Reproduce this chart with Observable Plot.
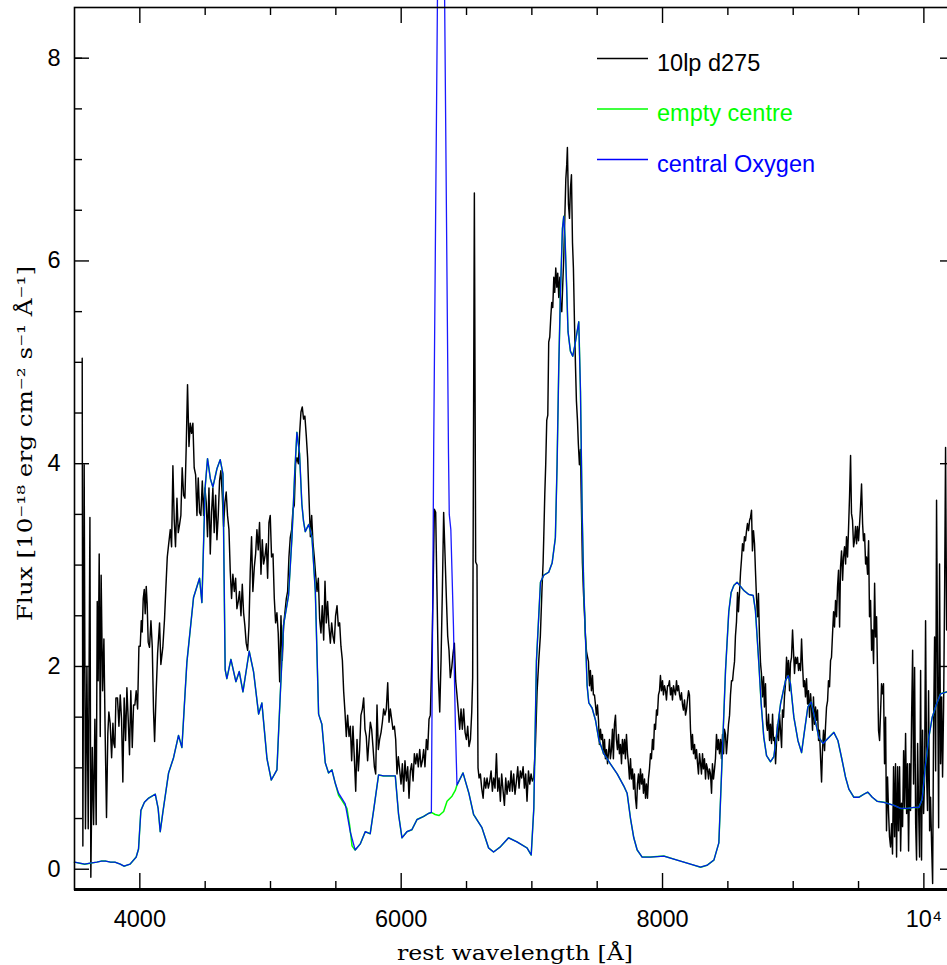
<!DOCTYPE html>
<html>
<head>
<meta charset="utf-8">
<script src="https://cdn.jsdelivr.net/npm/d3@7"></script>
<script src="https://cdn.jsdelivr.net/npm/@observablehq/plot@0.6"></script>
<style>
  html, body { margin: 0; padding: 0; background: #fff; overflow: hidden; }
  #chart svg { display: block; }
</style>
</head>
<body>
<div id="chart"></div>
<script>
// ---------- data (wavelength in Å, flux in 1e-18 erg/cm2/s/Å) ----------
const seriesNames = ["10lp d275", "empty centre", "central Oxygen"];
const seriesColors = ["#000000", "#00ff00", "#0000ff"];

const xMajorTicks = [4000, 6000, 8000, 10000];
const xTickLabels = ["4000", "6000", "8000", "10\u2074"];
const xMinorTicks = [4500, 5000, 5500, 6500, 7000, 7500, 8500, 9000, 9500];
const yMajorTicks = [0, 2, 4, 6, 8];
const yMinorTicks = [0.5, 1, 1.5, 2.5, 3, 3.5, 4.5, 5, 5.5, 6.5, 7, 7.5, 8];
const xDomain = [3500, 10242];
const yDomain = [-0.2, 8.5];
const xTitle = "rest wavelength [Å]";
const yTitle = "Flux [10\u207b\u00b9\u2078 erg cm\u207b\u00b2 s\u207b\u00b9 Å\u207b\u00b9]";

// observed spectrum "10lp d275"
const observed = [
[3559,5.04],[3564,0.23],[3574,3.99],[3584,0.40],[3595,2.0],[3605,0.40],[3618,3.47],[3625,-0.08],[3636,1.20],[3646,0.44],
[3656,1.48],[3666,0.44],[3674,2.64],[3681,1.86],[3689,3.11],[3697,1.31],[3704,2.90],[3715,1.76],[3725,2.27],[3735,1.31],
[3745,0.51],[3755,1.34],[3763,1.55],[3773,1.44],[3784,1.10],[3794,1.44],[3801,1.24],[3809,1.20],[3817,1.69],[3829,1.69],
[3840,1.41],[3850,1.72],[3860,1.48],[3870,0.86],[3880,1.69],[3891,1.27],[3901,1.79],[3911,1.48],[3921,1.13],[3931,1.76],
[3942,1.20],[3952,1.62],[3962,1.62],[3972,1.76],[3983,1.58],[3993,2.20],[4003,2.20],[4011,2.45],[4018,2.34],[4026,2.67],
[4034,2.76],[4041,2.52],[4049,2.79],[4056,2.62],[4064,2.24],[4074,2.19],[4085,2.45],[4095,2.20],[4105,1.55],[4113,1.26],
[4125,1.75],[4136,2.13],[4151,2.43],[4161,2.02],[4176,2.19],[4189,2.47],[4199,2.77],[4210,3.08],[4220,3.20],[4233,3.35],
[4243,3.18],[4253,3.98],[4263,3.45],[4273,3.18],[4284,3.66],[4294,3.32],[4304,3.40],[4314,3.49],[4324,3.96],[4335,3.69],
[4345,3.66],[4355,4.17],[4365,4.78],[4376,4.17],[4386,4.40],[4396,4.30],[4406,4.40],[4416,3.96],[4427,3.89],[4437,3.49],
[4447,3.86],[4457,3.52],[4467,3.49],[4478,3.83],[4488,3.49],[4498,3.76],[4508,3.62],[4518,3.28],[4529,3.76],[4539,3.11],
[4549,3.52],[4559,3.76],[4569,3.32],[4580,3.69],[4590,3.25],[4600,3.49],[4610,3.83],[4620,3.93],[4631,3.69],[4641,3.38],
[4651,3.62],[4661,3.72],[4671,3.49],[4682,3.35],[4692,2.94],[4702,2.67],[4712,2.91],[4723,2.74],[4733,2.87],[4743,2.57],
[4753,2.64],[4763,2.74],[4774,2.50],[4784,2.81],[4794,2.53],[4804,2.40],[4814,2.23],[4825,2.16],[4835,2.40],[4845,2.94],
[4855,3.28],[4865,2.74],[4876,2.98],[4886,3.11],[4896,3.35],[4906,3.15],[4916,3.42],[4927,2.91],[4937,3.25],[4947,3.01],
[4957,3.08],[4968,3.21],[4978,2.87],[4988,3.42],[4998,3.49],[5008,3.08],[5019,3.11],[5029,2.67],[5039,2.43],[5049,2.53],
[5059,2.33],[5070,1.85],[5080,2.50],[5090,2.06],[5100,2.40],[5110,2.53],[5121,2.67],[5131,2.74],[5141,3.08],[5151,3.27],
[5162,3.35],[5172,3.55],[5182,3.59],[5192,4.00],[5202,4.06],[5213,4.00],[5223,4.30],[5233,4.51],[5243,4.56],[5253,4.44],
[5263,4.47],[5274,4.27],[5284,4.06],[5294,3.69],[5305,3.28],[5315,3.49],[5325,3.22],[5335,3.08],[5345,2.91],[5356,2.74],
[5366,2.87],[5376,2.47],[5386,2.33],[5396,2.60],[5407,2.26],[5417,2.84],[5427,2.43],[5437,2.64],[5447,2.40],[5458,2.23],
[5468,2.43],[5478,2.30],[5488,2.23],[5498,2.50],[5509,2.60],[5519,2.40],[5529,2.43],[5539,2.20],[5550,2.06],[5560,1.75],
[5570,1.55],[5580,1.31],[5590,1.52],[5601,1.31],[5611,1.41],[5621,1.07],[5631,1.41],[5641,1.11],[5652,0.77],[5662,1.28],
[5672,0.97],[5682,1.18],[5692,1.52],[5703,1.58],[5713,1.69],[5723,1.38],[5733,1.31],[5743,1.07],[5754,1.28],[5764,1.45],
[5774,1.38],[5784,1.21],[5795,1.01],[5805,0.94],[5815,1.62],[5825,1.18],[5835,1.28],[5846,1.35],[5856,1.45],[5866,1.58],
[5876,1.52],[5886,1.58],[5897,1.84],[5907,1.45],[5917,1.58],[5927,1.48],[5937,1.38],[5948,1.41],[5958,1.28],[5968,0.94],
[5978,1.11],[5989,0.97],[5999,0.84],[6009,1.04],[6019,0.77],[6029,1.07],[6040,0.87],[6050,1.01],[6060,0.70],[6070,0.97],
[6080,1.04],[6091,0.87],[6101,1.14],[6111,1.04],[6121,1.14],[6131,1.01],[6142,1.18],[6152,1.01],[6162,1.07],[6172,1.18],
[6182,1.01],[6193,1.28],[6203,1.18],[6213,1.48],[6223,1.52],[6234,2.06],[6244,2.74],[6254,3.55],[6264,3.52],[6274,2.74],
[6285,1.89],[6295,1.55],[6305,2.06],[6315,2.74],[6325,3.52],[6336,3.08],[6346,2.67],[6356,2.30],[6366,2.16],[6376,1.89],
[6387,1.99],[6397,2.13],[6407,2.23],[6417,1.86],[6427,1.72],[6438,1.55],[6448,1.38],[6458,1.58],[6468,1.38],[6478,1.58],
[6489,1.35],[6499,1.28],[6509,1.41],[6519,1.21],[6530,1.28],[6540,1.55],[6547,1.89],[6560,6.67],[6570,3.03],[6580,3.0],
[6588,1.0],[6596,0.90],[6606,0.94],[6616,0.80],[6627,0.70],[6637,0.90],[6647,0.80],[6657,0.90],[6667,0.80],[6678,0.87],
[6688,0.97],[6698,0.77],[6708,0.90],[6718,0.80],[6729,1.14],[6739,0.77],[6749,0.90],[6759,0.67],[6769,0.94],[6780,0.77],
[6790,0.63],[6800,0.90],[6810,0.74],[6820,0.87],[6831,0.77],[6841,0.97],[6851,0.77],[6861,0.94],[6871,0.74],[6882,0.87],
[6892,1.01],[6902,0.80],[6912,0.97],[6922,0.90],[6933,1.01],[6943,0.80],[6953,0.94],[6963,0.67],[6974,0.97],[6984,0.84],
[6994,0.94],[7004,0.87],[7014,0.90],[7027,1.21],[7040,1.75],[7053,2.06],[7065,2.30],[7078,2.78],[7086,3.02],[7091,3.27],
[7099,3.70],[7106,3.99],[7114,4.43],[7122,4.48],[7129,5.20],[7137,5.25],[7145,5.45],[7152,5.59],[7160,5.54],[7168,5.84],
[7175,5.69],[7183,5.93],[7191,5.74],[7198,5.88],[7206,5.64],[7214,5.84],[7221,5.54],[7229,5.50],[7237,5.79],[7244,6.03],
[7252,6.42],[7260,6.81],[7267,6.95],[7272,7.12],[7280,6.56],[7288,6.42],[7295,6.71],[7303,6.85],[7311,6.18],[7318,5.93],
[7326,5.40],[7334,4.96],[7341,4.62],[7349,4.43],[7356,4.19],[7364,3.99],[7372,4.14],[7379,3.61],[7387,3.02],[7395,2.73],
[7402,2.54],[7410,2.30],[7418,2.15],[7425,2.10],[7433,2.05],[7441,1.81],[7448,1.96],[7456,1.76],[7464,1.91],[7471,1.72],
[7479,1.72],[7487,1.62],[7494,1.52],[7502,1.62],[7510,1.47],[7517,1.23],[7525,1.38],[7533,1.28],[7540,1.33],[7548,1.14],
[7556,1.28],[7563,1.09],[7571,1.18],[7579,1.04],[7586,1.14],[7594,1.28],[7601,1.09],[7609,1.18],[7617,1.38],[7624,1.09],
[7632,1.43],[7640,1.52],[7647,1.28],[7655,1.18],[7663,1.33],[7670,1.14],[7678,1.23],[7686,1.04],[7693,1.28],[7701,1.14],
[7709,1.28],[7716,1.09],[7724,1.33],[7732,1.14],[7739,1.04],[7747,0.89],[7755,1.09],[7762,0.89],[7770,0.99],[7778,0.79],
[7785,0.94],[7793,0.70],[7801,0.60],[7808,0.84],[7816,0.94],[7824,0.79],[7831,0.99],[7839,0.84],[7847,0.94],[7854,0.75],
[7862,0.89],[7870,0.70],[7877,0.84],[7885,0.70],[7892,0.89],[7900,0.99],[7908,1.14],[7915,1.09],[7923,1.28],[7931,1.18],
[7938,1.43],[7946,1.38],[7954,1.57],[7961,1.52],[7969,1.72],[7977,1.76],[7984,1.91],[7992,1.76],[8000,1.86],[8007,1.72],
[8015,1.81],[8023,1.76],[8030,1.67],[8038,1.81],[8046,1.81],[8053,1.86],[8061,1.72],[8069,1.79],[8076,1.67],[8084,1.81],
[8091,1.76],[8099,1.72],[8107,1.86],[8114,1.76],[8122,1.81],[8130,1.72],[8137,1.67],[8145,1.74],[8153,1.62],[8160,1.57],
[8168,1.67],[8176,1.52],[8183,1.57],[8191,1.67],[8199,1.76],[8206,1.72],[8214,1.38],[8222,1.18],[8229,1.33],[8237,1.14],
[8245,1.23],[8252,1.09],[8260,1.18],[8268,1.04],[8275,0.94],[8283,1.14],[8291,1.04],[8298,0.94],[8306,1.14],[8313,0.99],
[8321,1.09],[8329,0.89],[8336,1.04],[8344,0.99],[8352,0.89],[8359,0.99],[8367,0.94],[8375,0.75],[8382,1.04],[8390,0.89],
[8398,0.99],[8405,1.09],[8413,1.33],[8421,1.18],[8428,1.28],[8436,1.14],[8444,1.28],[8451,1.09],[8459,1.33],[8467,1.14],
[8474,1.38],[8482,1.33],[8489,1.14],[8497,1.28],[8505,1.43],[8513,1.52],[8520,1.72],[8528,1.86],[8536,1.86],[8543,1.96],
[8551,2.05],[8558,2.30],[8566,2.44],[8574,2.73],[8581,2.54],[8589,2.73],[8597,2.93],[8604,3.05],[8612,3.21],[8620,3.14],
[8627,3.28],[8635,3.24],[8643,3.34],[8650,3.41],[8658,3.34],[8666,3.44],[8673,3.47],[8681,3.54],[8688,3.14],[8696,3.34],
[8704,3.21],[8711,2.95],[8719,2.68],[8727,2.49],[8734,2.72],[8742,2.29],[8750,2.03],[8757,1.93],[8765,1.70],[8773,1.90],
[8780,1.60],[8788,1.83],[8796,1.43],[8803,1.37],[8811,1.53],[8819,1.27],[8826,1.43],[8834,1.24],[8842,1.53],[8849,1.27],
[8857,1.30],[8865,1.04],[8872,1.24],[8880,1.43],[8888,1.27],[8895,1.53],[8903,1.37],[8911,1.20],[8918,1.57],[8926,1.50],
[8933,1.70],[8941,1.83],[8949,2.09],[8956,1.90],[8964,2.06],[8972,1.76],[8979,2.03],[8987,2.09],[8995,2.36],[9002,2.16],
[9010,1.93],[9018,2.09],[9025,2.03],[9033,2.09],[9041,1.96],[9048,2.03],[9056,1.96],[9064,2.27],[9071,2.03],[9079,1.80],
[9087,1.86],[9094,1.70],[9102,1.88],[9110,1.63],[9117,1.76],[9125,1.50],[9133,1.73],[9140,1.60],[9148,1.37],[9155,1.70],
[9163,1.43],[9171,1.60],[9178,1.47],[9186,1.57],[9194,1.27],[9201,1.37],[9209,1.11],[9217,0.86],[9224,1.17],[9232,1.37],
[9240,1.17],[9247,1.40],[9255,1.60],[9263,1.66],[9270,1.86],[9278,1.80],[9286,2.06],[9293,2.09],[9301,2.32],[9309,2.54],
[9316,2.39],[9324,2.65],[9332,2.49],[9339,2.78],[9347,2.95],[9355,2.39],[9362,2.98],[9370,3.14],[9378,2.85],[9385,3.08],
[9393,3.18],[9401,3.01],[9408,3.28],[9416,3.08],[9423,3.34],[9431,3.67],[9439,4.08],[9446,3.51],[9454,3.44],[9462,3.18],
[9469,3.24],[9477,3.38],[9485,3.21],[9492,3.38],[9500,3.24],[9508,3.41],[9515,3.57],[9523,3.80],[9531,3.41],[9538,3.24],
[9546,3.31],[9554,3.01],[9561,3.08],[9569,2.91],[9577,3.24],[9584,2.49],[9592,2.65],[9600,2.16],[9607,2.36],[9615,2.03],
[9623,2.82],[9630,2.29],[9638,2.49],[9646,1.90],[9653,1.37],[9661,1.27],[9668,1.53],[9676,1.83],[9684,1.73],[9691,1.83],
[9699,1.04],[9707,1.50],[9714,0.38],[9722,0.91],[9730,0.55],[9737,0.32],[9745,0.22],[9753,0.45],[9760,0.15],[9768,1.01],
[9776,0.32],[9783,1.04],[9791,0.12],[9799,1.01],[9806,0.38],[9814,1.01],[9822,0.18],[9829,0.65],[9837,0.42],[9845,1.17],
[9852,0.61],[9860,1.34],[9868,0.55],[9875,1.04],[9883,0.18],[9891,1.04],[9898,0.58],[9906,1.50],[9914,2.16],[9921,0.84],
[9929,1.99],[9937,0.45],[9944,0.09],[9952,1.24],[9959,0.65],[9967,0.12],[9975,1.96],[9982,0.09],[9990,1.37],[9998,0.55],
[10005,0.88],[10013,2.45],[10021,0.91],[10028,0.58],[10036,1.76],[10044,0.38],[10051,0.71],[10059,0.25],[10067,-0.14],[10074,1.37],
[10082,2.29],[10090,0.97],[10097,3.64],[10105,2.03],[10113,0.41],[10120,3.01],[10128,1.04],[10136,1.70],[10143,0.91],[10151,1.60],
[10159,2.78],[10166,4.16],[10174,2.36]
];

// model "central Oxygen"
const centralOxygen = [
[3500,0.07],[3540,0.06],[3578,0.05],[3620,0.06],[3671,0.07],[3705,0.08],[3740,0.08],[3775,0.07],[3809,0.07],[3850,0.05],
[3879,0.03],[3925,0.05],[3972,0.12],[3990,0.2],[4008,0.58],[4035,0.66],[4066,0.70],[4118,0.74],[4140,0.6],[4156,0.37],
[4175,0.55],[4220,0.95],[4258,1.10],[4296,1.32],[4322,1.20],[4340,1.6],[4360,2.04],[4411,2.68],[4457,2.87],[4475,2.63],
[4500,3.77],[4518,4.05],[4540,3.85],[4559,3.77],[4590,3.95],[4615,4.04],[4636,3.9],[4653,1.97],[4666,1.88],[4697,2.07],
[4735,1.85],[4761,1.95],[4789,1.75],[4837,2.15],[4870,1.95],[4909,1.53],[4934,1.64],[4973,1.09],[5006,0.88],[5049,0.98],
[5075,1.73],[5100,2.41],[5138,2.70],[5164,3.27],[5185,3.9],[5202,4.31],[5222,4.1],[5240,3.6],[5253,3.43],[5266,3.33],
[5292,3.40],[5317,3.28],[5343,2.74],[5368,1.53],[5393,1.43],[5419,1.05],[5444,0.95],[5470,0.98],[5495,0.85],[5521,0.75],
[5572,0.645],[5610,0.37],[5648,0.19],[5687,0.25],[5725,0.37],[5763,0.35],[5789,0.58],[5827,0.93],[5865,0.92],[5955,0.92],
[5980,0.54],[6006,0.31],[6044,0.37],[6082,0.39],[6121,0.49],[6171,0.52],[6209,0.55],[6231,0.56],[6249,4.2],[6277,8.5],
[6305,12.5],[6333,8.5],[6362,4.1],[6368,3.5],[6380,3.35],[6400,2.4],[6415,1.4],[6427,0.83],[6473,0.95],[6518,0.75],
[6554,0.54],[6618,0.41],[6669,0.21],[6707,0.17],[6758,0.22],[6822,0.31],[6886,0.27],[6963,0.21],[6995,0.14],[7015,0.60],
[7035,2.05],[7066,2.83],[7091,2.90],[7129,2.93],[7155,3.02],[7180,3.27],[7193,3.99],[7206,4.96],[7219,5.69],[7234,6.32],
[7244,6.44],[7254,6.22],[7265,5.79],[7277,5.30],[7295,5.11],[7313,5.06],[7328,5.16],[7346,5.30],[7359,5.40],[7372,4.72],
[7385,3.51],[7397,2.78],[7410,2.30],[7423,1.81],[7436,1.64],[7461,1.59],[7487,1.47],[7512,1.28],[7550,1.14],[7601,1.04],
[7653,0.94],[7704,0.82],[7729,0.75],[7755,0.50],[7780,0.31],[7806,0.19],[7844,0.12],[7908,0.12],[8010,0.13],[8112,0.09],
[8214,0.05],[8291,0.02],[8342,0.04],[8393,0.09],[8431,0.26],[8456,1.09],[8482,1.96],[8507,2.54],[8525,2.73],[8546,2.80],
[8571,2.83],[8597,2.79],[8622,2.75],[8660,2.71],[8694,2.70],[8711,2.55],[8737,2.03],[8755,1.63],[8775,1.30],[8796,1.12],
[8826,1.06],[8852,1.11],[8877,1.37],[8903,1.63],[8941,1.86],[8962,1.91],[8979,1.83],[9005,1.50],[9036,1.27],[9064,1.15],
[9087,1.37],[9112,1.60],[9138,1.65],[9163,1.50],[9196,1.30],[9229,1.24],[9265,1.29],[9311,1.35],[9342,1.27],[9375,1.07],
[9400,0.91],[9426,0.79],[9464,0.71],[9503,0.71],[9541,0.74],[9571,0.76],[9605,0.71],[9643,0.67],[9694,0.66],[9771,0.63],
[9822,0.60],[9873,0.60],[9924,0.61],[9962,0.61],[9987,0.69],[10013,1.04],[10038,1.30],[10064,1.50],[10097,1.63],[10128,1.73],
[10179,1.75]
];

// model "empty centre": where it departs from the central Oxygen model
const emptyCentreNaD = [[5521,0.73],[5547,0.68],[5585,0.60],[5606,0.43],[5624,0.23],[5641,0.20]];
const emptyCentreHalpha = [[6231,0.56],[6260,0.54],[6290,0.53],[6325,0.57],[6351,0.67],[6389,0.72],[6415,0.78],[6427,0.83]];

// ---------- build tables ----------
const row = ([w, f]) => ({w, f});
const obsRows = observed.map(row);
const oxyRows = centralOxygen.map(row);
const diffRanges = [emptyCentreNaD, emptyCentreHalpha].map(s => [s[0][0], s[s.length - 1][0]]);
const emptyRows = centralOxygen
  .filter(([w]) => !diffRanges.some(([a, b]) => w >= a && w <= b))
  .concat(emptyCentreNaD, emptyCentreHalpha)
  .sort((a, b) => a[0] - b[0])
  .map(row);

const W = 947, H = 965;
const mL = 74, mR = -8, mT = 7, mB = 76;
const frameW = W - mL - mR, frameH = H - mT - mB;
const sans = "'Liberation Sans', Arial, Helvetica, sans-serif";
const serif = "'DejaVu Serif', 'Liberation Serif', serif";

const chart = Plot.plot({
  width: W, height: H,
  marginLeft: mL, marginRight: mR, marginTop: mT, marginBottom: mB,
  x: {domain: xDomain},
  y: {domain: yDomain},
  style: {fontFamily: sans, background: "white", color: "black"},
  marks: [
    // data
    Plot.line(obsRows, {x: "w", y: "f", stroke: seriesColors[0], strokeWidth: 1.45}),
    Plot.line(emptyRows, {x: "w", y: "f", stroke: seriesColors[1], strokeWidth: 1.5}),
    Plot.line(oxyRows, {x: "w", y: "f", stroke: seriesColors[2], strokeWidth: 1.3, strokeOpacity: 0.9}),
    // frame
    Plot.frame({stroke: "black", strokeWidth: 1.6}),
    Plot.ruleY([yDomain[0]], {stroke: "black", strokeWidth: 3}),
    // inward ticks: bottom & top
    Plot.tickX(xMajorTicks, {x: d => d, insetTop: frameH - 16, stroke: "black", strokeWidth: 1.4}),
    Plot.tickX(xMinorTicks, {x: d => d, insetTop: frameH - 8, stroke: "black", strokeWidth: 1.4}),
    Plot.tickX(xMajorTicks, {x: d => d, insetBottom: frameH - 16, stroke: "black", strokeWidth: 1.4}),
    Plot.tickX(xMinorTicks, {x: d => d, insetBottom: frameH - 8, stroke: "black", strokeWidth: 1.4}),
    // inward ticks: left & right
    Plot.tickY(yMajorTicks, {y: d => d, insetRight: frameW - 15, stroke: "black", strokeWidth: 1.4}),
    Plot.tickY(yMinorTicks, {y: d => d, insetRight: frameW - 8, stroke: "black", strokeWidth: 1.4}),
    Plot.tickY(yMajorTicks, {y: d => d, insetLeft: frameW - 15, stroke: "black", strokeWidth: 1.4}),
    Plot.tickY(yMinorTicks, {y: d => d, insetLeft: frameW - 8, stroke: "black", strokeWidth: 1.4}),
    // tick labels
    Plot.axisX(xMajorTicks, {anchor: "bottom", tickSize: 0, tickPadding: 21, fontSize: 23.5,
      tickFormat: d => xTickLabels[xMajorTicks.indexOf(d)], label: null}),
    Plot.axisY(yMajorTicks, {anchor: "left", tickSize: 0, tickPadding: 14, fontSize: 23.5,
      tickFormat: d => String(d), label: null}),
    // axis titles
    Plot.text([xTitle], {text: d => d, frameAnchor: "bottom", dy: 70, lineAnchor: "bottom",
      fontFamily: serif, fontSize: 20, fill: "black"}),
    Plot.text([yTitle], {text: d => d, frameAnchor: "left", dx: -43, dy: -5, rotate: -90,
      lineAnchor: "bottom", textAnchor: "middle", fontFamily: serif, fontSize: 20, fill: "black"})
  ]
});

// stretch axis titles to the reference lengths
const svg = d3.select(chart);
svg.selectAll("text").filter(function() { return this.textContent === xTitle; })
  .attr("textLength", 236).attr("lengthAdjust", "spacingAndGlyphs");
svg.selectAll("text").filter(function() { return this.textContent === yTitle; })
  .attr("textLength", 355).attr("lengthAdjust", "spacingAndGlyphs");

// legend (inside plot, upper right)
const legend = svg.append("g")
  .attr("font-family", sans).attr("font-size", 23.5).attr("text-anchor", "start");
seriesNames.forEach((name, i) => {
  const y = 58.5 + 50.5 * i;
  legend.append("line").attr("x1", 597).attr("x2", 648).attr("y1", y).attr("y2", y)
    .style("stroke", seriesColors[i]).style("stroke-width", "1.6px");
  legend.append("text").attr("x", 657).attr("y", y + 12).attr("text-anchor", "start")
    .style("fill", seriesColors[i]).text(name);
});

document.getElementById("chart").appendChild(chart);
</script>
</body>
</html>
